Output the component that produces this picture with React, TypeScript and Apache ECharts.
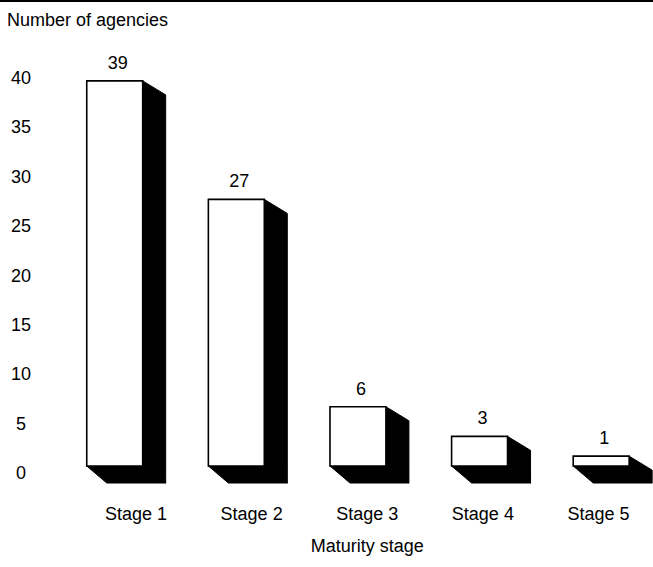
import React, { useEffect, useRef } from "react";
import * as echarts from "echarts";

const categories = ["Stage 1", "Stage 2", "Stage 3", "Stage 4", "Stage 5"];
const agencies = [39, 27, 6, 3, 1];
const yAxisTitle = "Number of agencies";
const xAxisTitle = "Maturity stage";

const FONT = "'Liberation Sans', Arial, Helvetica, sans-serif";

export default function App() {
  const ref = useRef<HTMLDivElement>(null);
  useEffect(() => {
    if (!ref.current) return;
    const chart = echarts.init(ref.current, undefined, { renderer: "svg" });
    const option = {
      animation: false,
      backgroundColor: "#fff",
      textStyle: { fontFamily: FONT, color: "#000" },
      title: {
        text: yAxisTitle,
        left: 2,
        top: 6,
        textStyle: { fontFamily: FONT, fontSize: 18, fontWeight: "normal", color: "#000" },
      },
      graphic: [
        {
          type: "line",
          shape: { x1: 0, y1: 1, x2: 653, y2: 1 },
          style: { stroke: "#000", lineWidth: 2 },
        },
      ],
      grid: { left: 136, right: 54.5, top: 78, bottom: 94 },
      xAxis: [
        {
          type: "category",
          data: categories,
          boundaryGap: false,
          axisLine: { show: false },
          axisTick: { show: false },
          axisLabel: { fontSize: 18, color: "#000", margin: 32, fontFamily: FONT },
          name: xAxisTitle,
          nameLocation: "middle",
          nameGap: 64,
          nameTextStyle: { fontSize: 18, color: "#000", fontFamily: FONT },
        },
        {
          type: "value",
          min: 0.175,
          max: 3.978,
          show: false,
          splitLine: { show: false },
        },
      ],
      yAxis: {
        type: "value",
        min: 0,
        max: 40,
        interval: 5,
        axisLine: { show: false },
        axisTick: { show: false },
        splitLine: { show: false },
        axisLabel: { fontSize: 18, color: "#000", margin: 115, align: "center", fontFamily: FONT },
      },
      series: [
        {
          type: "custom",
          xAxisIndex: 1,
          yAxisIndex: 0,
          clip: false,
          data: agencies.map((v, i) => [i, v]),
          renderItem: (params: any, api: any) => {
            const i = api.value(0);
            const v = api.value(1);
            const top = api.coord([i, v]);
            const base = api.coord([i, 0]);
            const cx = top[0];
            const halfW = api.size([1, 0])[0] * 0.23;
            const fl = cx - halfW;
            const fr = cx + halfW;
            const ft = top[1] - 7;
            const fb = base[1] - 7;
            return {
              type: "group",
              children: [
                {
                  type: "polygon",
                  shape: { points: [[fl, fb], [fl + 20, fb + 17], [fr + 23, fb + 17], [fr, fb]] },
                  style: { fill: "#000", stroke: "#000", lineWidth: 1 },
                },
                {
                  type: "polygon",
                  shape: { points: [[fr, ft], [fr + 23, ft + 14], [fr + 23, fb + 17], [fr, fb]] },
                  style: { fill: "#000", stroke: "#000", lineWidth: 1 },
                },
                {
                  type: "rect",
                  shape: { x: fl, y: ft, width: fr - fl, height: fb - ft },
                  style: { fill: "#fff", stroke: "#000", lineWidth: 1.6 },
                },
                {
                  type: "text",
                  x: cx + 3,
                  y: ft - 18,
                  style: {
                    text: String(v),
                    fill: "#000",
                    fontSize: 18,
                    fontFamily: FONT,
                    align: "center",
                    verticalAlign: "middle",
                  },
                },
              ],
            };
          },
        },
      ],
    };
    chart.setOption(option as any);
    return () => chart.dispose();
  }, []);
  return (
    <div
      ref={ref}
      style={{ position: "fixed", left: 0, top: 0, width: 653, height: 567 }}
    />
  );
}
